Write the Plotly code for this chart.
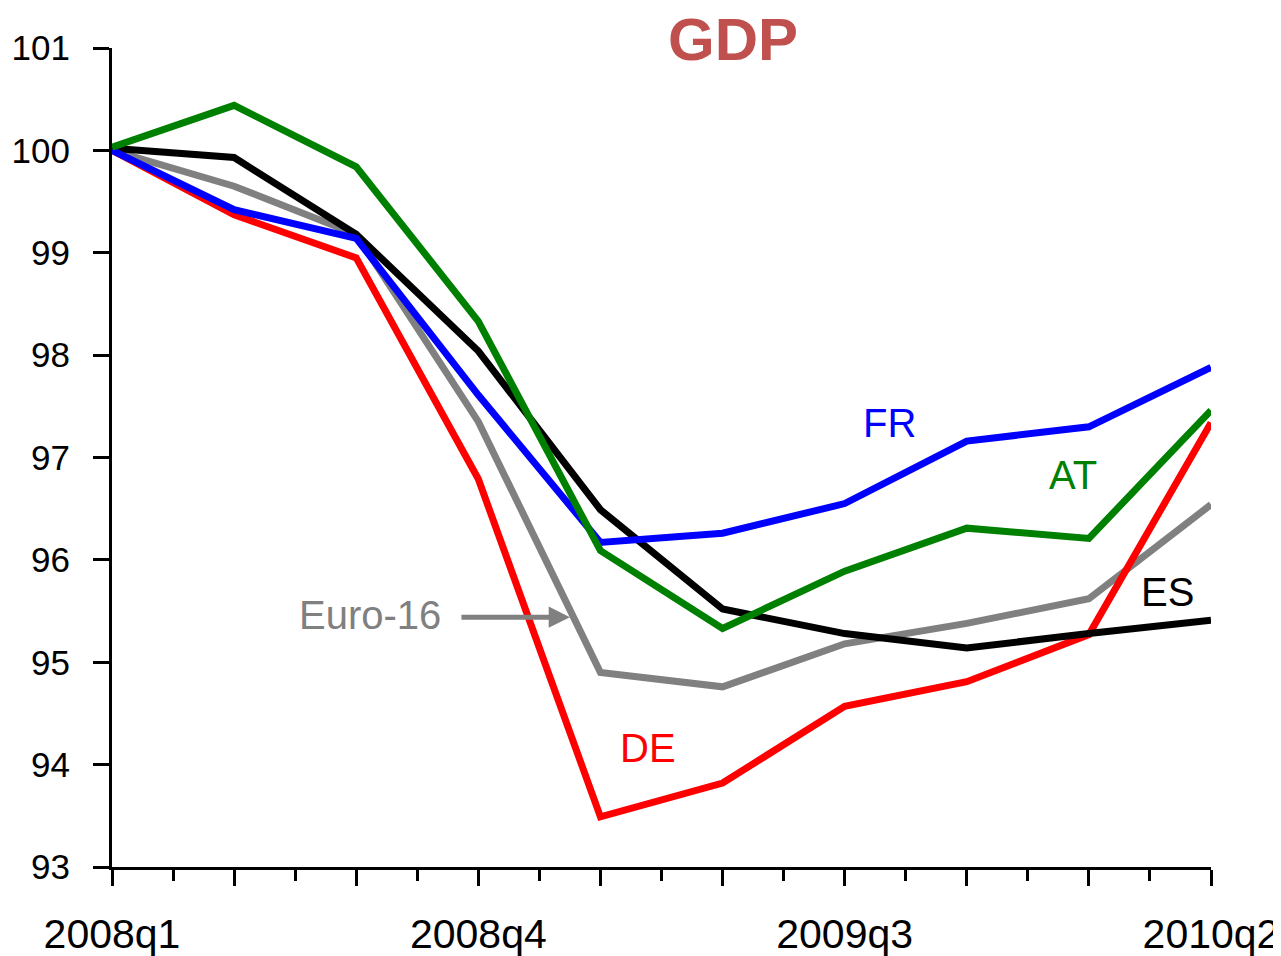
import plotly.graph_objects as go

######################################
# Data
######################################

quarters = ["2008q1", "2008q2", "2008q3", "2008q4", "2009q1",
            "2009q2", "2009q3", "2009q4", "2010q1", "2010q2"]
shown_quarters = ["2008q1", "2008q4", "2009q3", "2010q2"]

euro16 = [100.0, 99.65, 99.18, 97.35, 94.90, 94.76, 95.18, 95.38, 95.62, 96.54]
de = [100.0, 99.37, 98.95, 96.79, 93.49, 93.82, 94.57, 94.81, 95.27, 97.34]
es = [100.02, 99.93, 99.18, 98.04, 96.49, 95.52, 95.28, 95.14, 95.28, 95.41]
fr = [100.0, 99.42, 99.14, 97.61, 96.17, 96.26, 96.55, 97.16, 97.30, 97.88]
at = [100.03, 100.44, 99.84, 98.33, 96.09, 95.33, 95.89, 96.31, 96.21, 97.46]

######################################
# Figure
######################################

FONT = "Liberation Sans, Arial, sans-serif"
x = list(range(len(quarters)))

# the page puts the figure 8px in from the corner, margins allow for that
W, H = 1281, 956

series = [
    ("Euro-16", euro16, "#808080"),
    ("DE", de, "#FF0000"),
    ("ES", es, "#000000"),
    ("FR", fr, "#0000FF"),
    ("AT", at, "#008000"),
]

fig = go.Figure()
for name, vals, col in series:
    fig.add_trace(go.Scatter(x=x, y=vals, mode="lines", name=name,
                             line=dict(color=col, width=7), showlegend=False))

# series labels
labels = [
    ("FR", 6.37, 97.34, "#0000FF"),
    ("AT", 7.87, 96.83, "#008000"),
    ("ES", 8.64, 95.69, "#000000"),
    ("DE", 4.39, 94.16, "#FF0000"),
    ("Euro-16", 2.11, 95.46, "#808080"),
]
for txt, lx, ly, col in labels:
    fig.add_annotation(x=lx, y=ly, text=txt, showarrow=False,
                       font=dict(family=FONT, size=40, color=col))

# arrow pointing at the Euro-16 line
fig.add_annotation(x=3.75, y=95.44, ax=-110, ay=0, text="", showarrow=True,
                   arrowhead=2, arrowsize=0.85, arrowwidth=5, arrowcolor="#808080")

tick_text = [q if q in shown_quarters else "" for q in quarters]

fig.update_layout(
    width=W, height=H,
    margin=dict(l=104, r=78, t=40, b=97),
    plot_bgcolor="white", paper_bgcolor="white",
    font=dict(family=FONT, color="black"),
    title=dict(text="<b>GDP</b>", x=725 / W, xref="container", xanchor="center",
               y=1 - 31 / H, yref="container", yanchor="middle",
               font=dict(family=FONT, size=60, color="#C0504D")),
    xaxis=dict(range=[0, 9], tickvals=x, ticktext=tick_text,
               showgrid=False, zeroline=False, automargin=False,
               showline=True, linecolor="black", linewidth=3,
               ticks="outside", ticklen=16, tickwidth=3, tickcolor="black",
               ticklabelstandoff=13,
               minor=dict(ticks="outside", dtick=0.5, tick0=0, ticklen=11,
                          tickwidth=3, tickcolor="black", showgrid=False),
               tickfont=dict(family=FONT, size=41, color="black")),
    yaxis=dict(range=[93, 101], dtick=1, tick0=93,
               showgrid=False, zeroline=False, automargin=False,
               showline=True, linecolor="black", linewidth=3,
               ticks="outside", ticklen=16, tickwidth=3, tickcolor="black",
               ticklabelstandoff=16,
               tickfont=dict(family=FONT, size=35, color="black")),
)

fig.write_html("out.html")
